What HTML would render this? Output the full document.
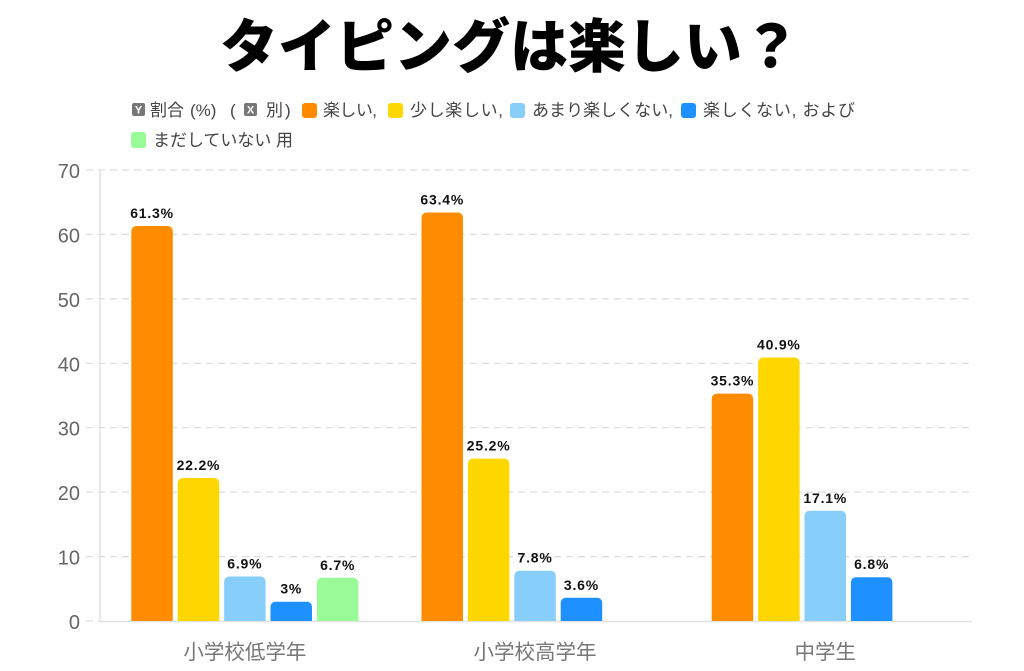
<!DOCTYPE html>
<html>
<head>
<meta charset="utf-8">
<style>
html,body{margin:0;padding:0;background:#fff;}
svg{display:block;}
.lg{font-family:"Liberation Sans","Noto Sans CJK JP",sans-serif;font-size:17px;fill:#444;}
.tk{font-family:"Liberation Sans",sans-serif;font-size:20px;fill:#666;}
.cat{font-family:"Liberation Sans","Noto Sans CJK JP",sans-serif;font-size:20.5px;fill:#777;}
.dl{font-family:"Liberation Sans",sans-serif;font-size:14px;font-weight:bold;fill:#111;letter-spacing:0.8px;}
</style>
</head>
<body>
<svg width="1024" height="671" viewBox="0 0 1024 671" xmlns="http://www.w3.org/2000/svg">
<defs>
<clipPath id="pc"><rect x="0" y="0" width="1024" height="621"/></clipPath>
</defs>
<rect width="1024" height="671" fill="#fff"/>

<!-- Title -->
<text x="510" y="67" text-anchor="middle" font-family="'Liberation Sans','Noto Sans CJK JP',sans-serif" font-size="58" font-weight="900" fill="#000" textLength="580">タイピングは楽しい？</text>

<!-- Legend line 1 -->
<rect x="132" y="103" width="13" height="13" rx="2" fill="#777"/>
<text x="138.5" y="113.5" text-anchor="middle" font-family="'Liberation Sans',sans-serif" font-size="11" font-weight="bold" fill="#fff">Y</text>
<text class="lg" x="150" y="116">割合</text>
<text class="lg" x="190" y="116" font-size="18">(%)</text>
<text class="lg" x="230" y="116" font-size="18">(</text>
<rect x="244" y="103" width="13" height="13" rx="2" fill="#777"/>
<text x="250.5" y="113.5" text-anchor="middle" font-family="'Liberation Sans',sans-serif" font-size="11" font-weight="bold" fill="#fff">X</text>
<text class="lg" x="266" y="116">別</text>
<text class="lg" x="285" y="116" font-size="18">)</text>
<rect x="302" y="103" width="15" height="15" rx="3" fill="#FF8C00"/>
<text class="lg" x="323" y="116" textLength="54">楽しい,</text>
<rect x="388" y="103" width="15" height="15" rx="3" fill="#FFD700"/>
<text class="lg" x="410" y="116" textLength="93">少し楽しい,</text>
<rect x="510" y="103" width="15" height="15" rx="3" fill="#87CEFA"/>
<text class="lg" x="532" y="116" textLength="141">あまり楽しくない,</text>
<rect x="681" y="103" width="15" height="15" rx="3" fill="#1E90FF"/>
<text class="lg" x="703" y="116" textLength="152">楽しくない, および</text>
<!-- Legend line 2 -->
<rect x="131" y="132" width="15" height="16" rx="3" fill="#98FB98"/>
<text class="lg" x="153" y="146" textLength="140">まだしていない 用</text>

<!-- Grid lines -->
<g stroke="#dcdcdc" stroke-width="1.2" stroke-dasharray="7 5">
<line x1="86" y1="170" x2="972" y2="170"/>
<line x1="86" y1="234.4" x2="972" y2="234.4"/>
<line x1="86" y1="298.9" x2="972" y2="298.9"/>
<line x1="86" y1="363.3" x2="972" y2="363.3"/>
<line x1="86" y1="427.7" x2="972" y2="427.7"/>
<line x1="86" y1="492.1" x2="972" y2="492.1"/>
<line x1="86" y1="556.6" x2="972" y2="556.6"/>
</g>
<line x1="86" y1="621" x2="100" y2="621" stroke="#dcdcdc" stroke-width="1.2" stroke-dasharray="7 5"/>
<!-- Axes -->
<line x1="100" y1="170" x2="100" y2="622" stroke="#e2e2e2" stroke-width="1.5"/>
<line x1="100" y1="621.5" x2="972" y2="621.5" stroke="#e2e2e2" stroke-width="1.5"/>

<!-- Y tick labels -->
<g class="tk" text-anchor="end">
<text x="80" y="178">70</text>
<text x="80" y="242.4">60</text>
<text x="80" y="306.9">50</text>
<text x="80" y="371.3">40</text>
<text x="80" y="435.7">30</text>
<text x="80" y="500.1">20</text>
<text x="80" y="564.6">10</text>
<text x="80" y="629">0</text>
</g>

<!-- Bars -->
<g clip-path="url(#pc)">
<rect x="131.3" y="226.0" width="41.5" height="402" rx="5" fill="#FF8C00"/>
<rect x="177.7" y="478.0" width="41.5" height="150" rx="5" fill="#FFD700"/>
<rect x="224.1" y="576.5" width="41.5" height="60" rx="5" fill="#87CEFA"/>
<rect x="270.5" y="601.7" width="41.5" height="60" rx="5" fill="#1E90FF"/>
<rect x="316.9" y="577.8" width="41.5" height="60" rx="5" fill="#98FB98"/>

<rect x="421.5" y="212.5" width="41.5" height="420" rx="5" fill="#FF8C00"/>
<rect x="467.9" y="458.6" width="41.5" height="170" rx="5" fill="#FFD700"/>
<rect x="514.3" y="570.7" width="41.5" height="60" rx="5" fill="#87CEFA"/>
<rect x="560.7" y="597.8" width="41.5" height="60" rx="5" fill="#1E90FF"/>

<rect x="711.7" y="393.6" width="41.5" height="240" rx="5" fill="#FF8C00"/>
<rect x="758.1" y="357.5" width="41.5" height="270" rx="5" fill="#FFD700"/>
<rect x="804.5" y="510.8" width="41.5" height="120" rx="5" fill="#87CEFA"/>
<rect x="850.9" y="577.2" width="41.5" height="60" rx="5" fill="#1E90FF"/>
</g>

<!-- Data labels -->
<g class="dl" text-anchor="middle">
<text x="152.05" y="218">61.3%</text>
<text x="198.45" y="470">22.2%</text>
<text x="244.85" y="568.5">6.9%</text>
<text x="291.25" y="593.7">3%</text>
<text x="337.65" y="569.8">6.7%</text>

<text x="442.25" y="204.5">63.4%</text>
<text x="488.65" y="450.6">25.2%</text>
<text x="535.05" y="562.7">7.8%</text>
<text x="581.45" y="589.8">3.6%</text>

<text x="732.45" y="385.6">35.3%</text>
<text x="778.85" y="349.5">40.9%</text>
<text x="825.25" y="502.8">17.1%</text>
<text x="871.65" y="569.2">6.8%</text>
</g>

<!-- Category labels -->
<g class="cat" text-anchor="middle">
<text x="244.85" y="659">小学校低学年</text>
<text x="535.05" y="659">小学校高学年</text>
<text x="825.25" y="659">中学生</text>
</g>
</svg>
</body>
</html>
